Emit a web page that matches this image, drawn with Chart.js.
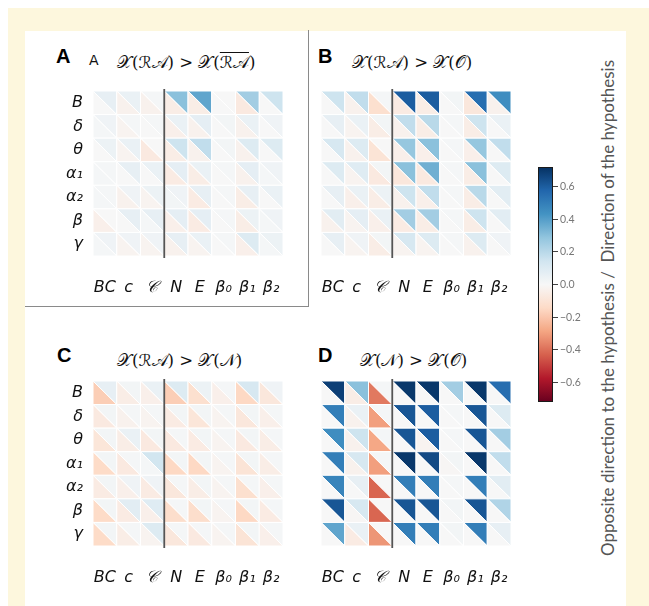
<!DOCTYPE html>
<html>
<head>
<meta charset="utf-8">
<script src="https://cdn.jsdelivr.net/npm/chart.js@4.4.0/dist/chart.umd.min.js"></script>
<style>
  body { margin: 0; width: 649px; height: 606px; position: relative; overflow: hidden; background: #fff; }
  #frame { position: absolute; left: 8px; top: 8px; right: 0; bottom: 0; background: #fdf7dd; }
  #page { position: absolute; left: 25px; top: 31px; width: 601px; height: 575px; background: #fff; }
  #box { position: absolute; left: 25px; top: 30px; width: 283px; height: 276px; border-right: 1.5px solid #8a8a8a; border-bottom: 1.5px solid #8a8a8a; }
  canvas { position: absolute; }
  .tag { position: absolute; font: bold 20px 'Liberation Sans', Arial, sans-serif; color: #000; line-height: 20px; }
  .sub { position: absolute; font: 14px 'DejaVu Sans', sans-serif; color: #111; line-height: 20px; }
  .ttl { position: absolute; font: 16.5px 'DejaVu Serif', 'DejaVu Sans', serif; color: #111; white-space: nowrap; line-height: 20px; }
  .ov { text-decoration: overline; }
  #cblabel { position: absolute; left: 607px; top: 308px; transform: translate(-50%, -50%) rotate(-90deg); white-space: nowrap;
             font: 17px Lato, 'Open Sans', sans-serif; color: #555; }
</style>
</head>
<body>
<div id="frame"></div>
<div id="page"></div>
<div id="box"></div>

<div class="tag" style="left:56px;top:46px">A</div>
<div class="sub" style="left:89px;top:50px">A</div>
<div class="ttl" style="left:117px;top:53px">𝒳(ℛ𝒜) &gt; 𝒳(<span class="ov">ℛ𝒜</span>)</div>

<div class="tag" style="left:318px;top:46px">B</div>
<div class="ttl" style="left:352px;top:53px">𝒳(ℛ𝒜) &gt; 𝒳(𝒪)</div>

<div class="tag" style="left:57px;top:345px">C</div>
<div class="ttl" style="left:117px;top:351px">𝒳(ℛ𝒜) &gt; 𝒳(𝒩)</div>

<div class="tag" style="left:318px;top:345px">D</div>
<div class="ttl" style="left:360px;top:351px">𝒳(𝒩) &gt; 𝒳(𝒪)</div>

<canvas id="panelA" width="265" height="210" style="left:30px;top:88px"></canvas>
<canvas id="panelB" width="265" height="210" style="left:258px;top:88px"></canvas>
<canvas id="panelC" width="265" height="210" style="left:30px;top:378px"></canvas>
<canvas id="panelD" width="265" height="210" style="left:258px;top:378px"></canvas>
<canvas id="colorbar" width="60" height="250" style="left:530px;top:160px"></canvas>
<div id="cblabel">Opposite direction to the hypothesis /&nbsp; Direction of the hypothesis</div>

<script>
// Axis labels
const rowLabels = ['B', 'δ', 'θ', 'α₁', 'α₂', 'β', 'γ'];
const colLabels = ['BC', 'c', '𝒞', 'N', 'E', 'β₀', 'β₁', 'β₂'];
const cbTicks = [-0.6, -0.4, -0.2, 0, 0.2, 0.4, 0.6];
const cbMin = -0.72;
const cbMax = 0.72;

// A: X(RA) > X(RA-bar); upper-right / lower-left triangle of each cell
const upperA = [
  [0.06, 0.05, 0.01, 0.30, 0.38, 0.00, 0.25, 0.15],
  [0.03, 0.01, 0.01, 0.05, 0.07, 0.02, 0.05, 0.03],
  [0.04, 0.05, 0.00, 0.15, 0.18, 0.02, 0.10, 0.10],
  [0.01, 0.06, 0.05, 0.07, 0.05, 0.01, 0.07, 0.03],
  [0.01, 0.03, 0.04, 0.03, 0.06, 0.01, 0.06, 0.05],
  [0.00, 0.06, 0.06, 0.07, 0.07, 0.01, 0.04, 0.03],
  [0.03, 0.03, 0.03, 0.06, 0.05, 0.01, 0.10, 0.04]
];
const lowerA = [
  [0.00, -0.03, -0.03, -0.05, -0.05, 0.00, -0.07, 0.00],
  [0.01, -0.02, 0.00, -0.04, -0.03, 0.00, -0.03, 0.00],
  [0.00, -0.02, -0.07, -0.05, -0.03, 0.00, -0.03, 0.00],
  [0.01, 0.00, 0.00, -0.06, -0.05, 0.00, -0.03, 0.01],
  [0.01, -0.03, -0.02, 0.02, -0.06, 0.00, -0.05, 0.00],
  [-0.04, 0.00, 0.01, -0.04, -0.06, 0.00, -0.05, 0.01],
  [0.01, -0.02, -0.02, -0.03, -0.02, 0.00, -0.04, 0.01]
];

// B: X(RA) > X(O)
const upperB = [
  [0.15, 0.18, 0.01, 0.60, 0.60, 0.02, 0.55, 0.45],
  [0.06, 0.05, 0.02, 0.18, 0.20, 0.01, 0.15, 0.05],
  [0.12, 0.10, 0.00, 0.28, 0.30, 0.01, 0.28, 0.18],
  [0.10, 0.09, 0.02, 0.30, 0.35, 0.01, 0.30, 0.10],
  [0.06, 0.05, 0.04, 0.15, 0.18, 0.01, 0.20, 0.08],
  [0.08, 0.07, 0.05, 0.25, 0.25, 0.01, 0.15, 0.08],
  [0.06, 0.03, 0.02, 0.12, 0.10, 0.01, 0.10, 0.03]
];
const lowerB = [
  [0.00, -0.03, -0.12, -0.06, -0.05, 0.00, -0.08, -0.03],
  [0.00, -0.02, -0.05, -0.03, -0.05, 0.00, -0.05, 0.00],
  [0.00, -0.03, -0.10, -0.04, -0.04, 0.00, -0.04, 0.00],
  [0.00, -0.02, -0.07, -0.08, -0.07, 0.00, -0.05, 0.00],
  [0.00, -0.04, -0.05, -0.03, -0.04, 0.00, -0.05, 0.00],
  [-0.03, -0.02, -0.04, -0.06, -0.05, 0.00, -0.05, 0.00],
  [0.00, -0.02, -0.05, -0.02, -0.02, 0.00, -0.03, 0.00]
];

// C: X(RA) > X(N)
const upperC = [
  [0.06, 0.02, 0.05, 0.10, 0.04, 0.01, 0.12, 0.03],
  [0.02, 0.01, 0.01, 0.02, 0.02, 0.01, 0.02, 0.01],
  [0.02, 0.05, 0.02, 0.01, 0.02, 0.01, 0.02, 0.01],
  [0.02, 0.01, 0.14, 0.02, 0.02, 0.01, 0.02, 0.01],
  [0.02, 0.03, 0.03, 0.01, 0.02, 0.01, 0.01, 0.01],
  [0.02, 0.08, 0.09, 0.01, 0.02, 0.01, 0.02, 0.01],
  [0.02, 0.01, 0.10, 0.01, 0.01, 0.01, 0.02, 0.01]
];
const lowerC = [
  [-0.18, -0.05, -0.04, -0.18, -0.12, -0.04, -0.15, -0.08],
  [-0.07, -0.03, -0.02, -0.06, -0.09, -0.02, -0.08, -0.04],
  [-0.09, -0.05, -0.07, -0.07, -0.06, -0.02, -0.07, -0.05],
  [-0.14, -0.07, 0.01, -0.15, -0.15, -0.02, -0.10, -0.05],
  [-0.06, -0.04, -0.06, -0.08, -0.05, -0.02, -0.12, -0.04],
  [-0.14, -0.06, -0.04, -0.13, -0.13, -0.02, -0.15, -0.06],
  [-0.14, -0.05, -0.02, -0.08, -0.07, -0.02, -0.10, -0.04]
];

// D: X(N) > X(O)
const upperD = [
  [0.68, 0.30, 0.01, 0.70, 0.70, 0.25, 0.70, 0.55],
  [0.50, 0.05, 0.01, 0.62, 0.60, 0.01, 0.62, 0.10],
  [0.45, 0.15, 0.01, 0.62, 0.60, 0.01, 0.62, 0.25],
  [0.50, 0.12, 0.01, 0.70, 0.65, 0.02, 0.70, 0.18],
  [0.48, 0.06, 0.00, 0.50, 0.50, 0.01, 0.50, 0.08],
  [0.62, 0.12, 0.00, 0.62, 0.62, 0.02, 0.62, 0.22],
  [0.38, 0.05, 0.00, 0.50, 0.50, 0.02, 0.50, 0.06]
];
const lowerD = [
  [0.00, -0.05, -0.38, 0.00, 0.00, 0.00, 0.00, 0.00],
  [0.00, -0.03, -0.30, 0.00, 0.00, 0.00, 0.00, 0.00],
  [0.00, -0.03, -0.28, 0.00, -0.02, 0.00, 0.00, 0.00],
  [0.00, -0.03, -0.30, 0.00, 0.00, -0.01, 0.00, 0.00],
  [0.00, 0.00, -0.42, 0.00, 0.00, 0.00, 0.00, 0.00],
  [0.00, -0.01, -0.42, 0.00, 0.00, 0.00, 0.00, 0.00],
  [0.00, -0.06, -0.32, 0.00, 0.00, 0.00, 0.00, 0.00]
];

// RdBu colour map
const rdbu = ['#67001f', '#b2182b', '#d6604d', '#f4a582', '#fddbc7', '#f7f7f7',
              '#d1e5f0', '#92c5de', '#4393c3', '#2166ac', '#053061'];
function hexRgb(h) {
  return [parseInt(h.slice(1, 3), 16), parseInt(h.slice(3, 5), 16), parseInt(h.slice(5, 7), 16)];
}
function colorFor(v) {
  let t = (v - cbMin) / (cbMax - cbMin);
  t = Math.min(1, Math.max(0, t)) * (rdbu.length - 1);
  const i = Math.min(rdbu.length - 2, Math.floor(t));
  const f = t - i;
  const a = hexRgb(rdbu[i]), b = hexRgb(rdbu[i + 1]);
  const c = a.map((x, k) => Math.round(x + (b[k] - x) * f));
  return `rgb(${c[0]},${c[1]},${c[2]})`;
}

// no automatic label padding, so the chart area lands where the canvas says
function noPadding(s) {
  s.paddingTop = 0; s.paddingBottom = 0; s.paddingLeft = 0; s.paddingRight = 0;
}

// Draws two triangles per data point, using the chart scales
const trianglePlugin = {
  id: 'triangles',
  afterDatasetsDraw(chart) {
    const { ctx, scales: { x, y }, chartArea } = chart;
    ctx.save();
    ctx.strokeStyle = '#ffffff';
    ctx.lineWidth = 1;
    chart.data.datasets[0].data.forEach(p => {
      const x0 = x.getPixelForValue(p.x - 0.5), x1 = x.getPixelForValue(p.x + 0.5);
      const y0 = y.getPixelForValue(p.y - 0.5), y1 = y.getPixelForValue(p.y + 0.5);
      // upper-right
      ctx.beginPath();
      ctx.moveTo(x0, y0); ctx.lineTo(x1, y0); ctx.lineTo(x1, y1); ctx.closePath();
      ctx.fillStyle = colorFor(p.u);
      ctx.fill(); ctx.stroke();
      // lower-left
      ctx.beginPath();
      ctx.moveTo(x0, y0); ctx.lineTo(x0, y1); ctx.lineTo(x1, y1); ctx.closePath();
      ctx.fillStyle = colorFor(p.l);
      ctx.fill(); ctx.stroke();
    });
    // separator between the first three and the remaining columns
    const sx = x.getPixelForValue(2.5);
    ctx.strokeStyle = '#555';
    ctx.lineWidth = 1.8;
    ctx.beginPath();
    ctx.moveTo(sx, chartArea.top - 2);
    ctx.lineTo(sx, chartArea.bottom + 2);
    ctx.stroke();
    ctx.restore();
  }
};

const labelFont = { family: "'DejaVu Sans'", style: 'italic', size: 16 };

function heatPanel(id, upper, lower, showRows) {
  const points = [];
  upper.forEach((row, r) => row.forEach((u, c) => points.push({ x: c, y: r, u: u, l: lower[r][c] })));
  return new Chart(document.getElementById(id), {
    type: 'scatter',
    data: { datasets: [{ data: points, pointRadius: 0, pointHoverRadius: 0 }] },
    options: {
      responsive: false,
      animation: false,
      events: [],
      layout: { padding: { left: 0, top: 3, right: 12, bottom: 0 } },
      plugins: { legend: { display: false }, tooltip: { enabled: false } },
      scales: {
        x: {
          type: 'linear', min: -0.5, max: colLabels.length - 0.5,
          grid: { display: false, drawTicks: false },
          border: { display: false },
          afterBuildTicks: s => { s.ticks = colLabels.map((_, i) => ({ value: i })); },
          afterFit: s => { s.height = 42; noPadding(s); },
          ticks: { callback: v => colLabels[v], padding: 22, maxRotation: 0, autoSkip: false, color: '#111', font: labelFont }
        },
        y: {
          type: 'linear', min: -0.5, max: rowLabels.length - 0.5, reverse: true,
          grid: { display: false, drawTicks: false },
          border: { display: false },
          afterBuildTicks: s => { s.ticks = rowLabels.map((_, i) => ({ value: i })); },
          afterFit: s => { s.width = 63; noPadding(s); },
          ticks: { callback: v => showRows ? rowLabels[v] : '', padding: 10, autoSkip: false, color: '#111', font: labelFont }
        }
      }
    },
    plugins: [trianglePlugin]
  });
}

heatPanel('panelA', upperA, lowerA, true);
heatPanel('panelB', upperB, lowerB, false);
heatPanel('panelC', upperC, lowerC, true);
heatPanel('panelD', upperD, lowerD, false);

// Colour bar
const gradientPlugin = {
  id: 'gradientBar',
  beforeDatasetsDraw(chart) {
    const { ctx, chartArea: a, scales: { y } } = chart;
    const g = ctx.createLinearGradient(0, y.getPixelForValue(cbMax), 0, y.getPixelForValue(cbMin));
    for (let k = 0; k <= 40; k++) {
      const v = cbMax - (cbMax - cbMin) * k / 40;
      g.addColorStop(k / 40, colorFor(v));
    }
    ctx.save();
    ctx.fillStyle = g;
    ctx.fillRect(a.left, a.top, a.right - a.left, a.bottom - a.top);
    ctx.strokeStyle = '#1a1a1a';
    ctx.lineWidth = 1;
    ctx.strokeRect(a.left + 0.5, a.top + 0.5, a.right - a.left - 1, a.bottom - a.top - 1);
    ctx.restore();
  }
};

new Chart(document.getElementById('colorbar'), {
  type: 'scatter',
  data: { datasets: [{ data: [] }] },
  options: {
    responsive: false,
    animation: false,
    events: [],
    layout: { padding: { left: 8, top: 7, right: 0, bottom: 8 } },
    plugins: { legend: { display: false }, tooltip: { enabled: false } },
    scales: {
      x: { display: false },
      y: {
        position: 'right', min: cbMin, max: cbMax,
        afterBuildTicks: s => { s.ticks = cbTicks.map(v => ({ value: v })); },
        afterFit: s => { s.width = 37; noPadding(s); },
        grid: { drawOnChartArea: false, drawTicks: true, tickLength: 5, color: '#444' },
        border: { display: false },
        ticks: {
          padding: 2, color: '#777', font: { family: 'Lato', size: 10.5 },
          callback: v => (v < 0 ? '\u2212' : '') + Math.abs(v).toFixed(1)
        }
      }
    }
  },
  plugins: [gradientPlugin]
});
</script>
</body>
</html>
